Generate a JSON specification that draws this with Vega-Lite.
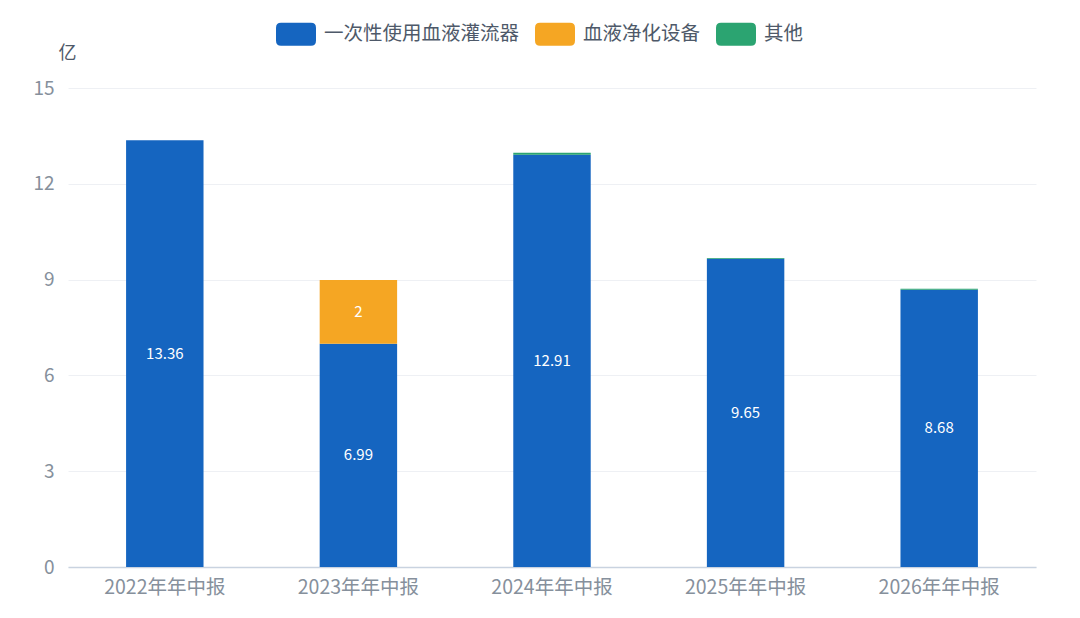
{
  "$schema": "https://vega.github.io/schema/vega-lite/v6.json",
  "width": 968,
  "height": 479,
  "autosize": {"type": "none"},
  "padding": {"left": 68, "top": 88, "right": 44, "bottom": 51},
  "background": "white",
  "config": {
    "font": "Noto Sans CJK SC",
    "view": {"stroke": null}
  },
  "data": {
    "values": [
      {"period": "2022年年中报", "type": "一次性使用血液灌流器", "value": 13.36, "order": 1},
      {"period": "2023年年中报", "type": "一次性使用血液灌流器", "value": 6.99, "order": 1},
      {"period": "2023年年中报", "type": "血液净化设备", "value": 2, "order": 2},
      {"period": "2024年年中报", "type": "一次性使用血液灌流器", "value": 12.91, "order": 1},
      {"period": "2024年年中报", "type": "其他", "value": 0.06, "order": 3},
      {"period": "2025年年中报", "type": "一次性使用血液灌流器", "value": 9.65, "order": 1},
      {"period": "2025年年中报", "type": "其他", "value": 0.03, "order": 3},
      {"period": "2026年年中报", "type": "一次性使用血液灌流器", "value": 8.68, "order": 1},
      {"period": "2026年年中报", "type": "其他", "value": 0.03, "order": 3}
    ]
  },
  "transform": [
    {"stack": "value", "groupby": ["period"], "sort": [{"field": "order", "order": "ascending"}], "as": ["v0", "v1"]},
    {"calculate": "(datum.v0 + datum.v1) / 2", "as": "mid"}
  ],
  "encoding": {
    "x": {
      "field": "period",
      "type": "nominal",
      "sort": null,
      "scale": {"paddingInner": 0.6, "paddingOuter": 0.3},
      "axis": {
        "title": null,
        "labelAngle": 0,
        "labelFontSize": 19.5,
        "labelColor": "#86909C",
        "labelPadding": 11,
        "ticks": false,
        "domainColor": "#C9D3E0",
        "domainWidth": 1.5,
        "grid": false
      }
    }
  },
  "layer": [
    {
      "mark": {"type": "bar"},
      "encoding": {
        "y": {
          "field": "v1",
          "type": "quantitative",
          "scale": {"domain": [0, 15], "nice": false},
          "axis": {
            "title": "亿",
            "titleAngle": 0,
            "titleX": -1,
            "titleY": -35,
            "titleAlign": "center",
            "titleBaseline": "middle",
            "titleFontSize": 18,
            "titleFontWeight": "normal",
            "titleColor": "#4E5969",
            "values": [0, 3, 6, 9, 12, 15],
            "labelFontSize": 19,
            "labelColor": "#86909C",
            "labelPadding": 14,
            "ticks": false,
            "domain": false,
            "gridColor": "#EEF0F4",
            "gridWidth": 1
          }
        },
        "y2": {"field": "v0"},
        "color": {
          "field": "type",
          "type": "nominal",
          "scale": {
            "domain": ["一次性使用血液灌流器", "血液净化设备", "其他"],
            "range": ["#1565C0", "#F5A623", "#2BA471"]
          },
          "legend": {
            "title": null,
            "orient": "none",
            "direction": "horizontal",
            "legendX": 208,
            "legendY": -74,
            "symbolType": "M-0.75,-0.575 L0.75,-0.575 Q1,-0.575 1,-0.325 L1,0.325 Q1,0.575 0.75,0.575 L-0.75,0.575 Q-1,0.575 -1,0.325 L-1,-0.325 Q-1,-0.575 -0.75,-0.575 Z",
            "symbolSize": 1600,
            "symbolStrokeWidth": 0,
            "symbolOpacity": 1,
            "labelFontSize": 19.5,
            "labelColor": "#4E5969",
            "labelOffset": 8,
            "labelLimit": 400,
            "columnPadding": 15
          }
        }
      }
    },
    {
      "transform": [{"filter": "datum.value > 0.5"}],
      "mark": {"type": "text", "color": "white", "fontSize": 15, "baseline": "middle"},
      "encoding": {
        "y": {"field": "mid", "type": "quantitative"},
        "text": {"field": "value", "type": "quantitative"}
      }
    }
  ]
}
